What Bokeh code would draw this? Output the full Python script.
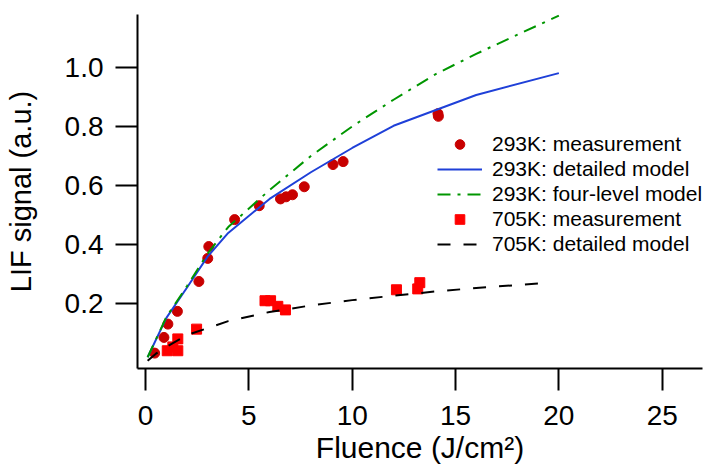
from bokeh.plotting import figure
from bokeh.models import Range1d, FixedTicker, Legend, LegendItem, ColumnDataSource
from bokeh.embed import file_html
from bokeh.resources import INLINE

# 293K measurement (circles)
m293_x = [0.44, 0.89, 1.08, 1.54, 2.58, 3.01, 3.06, 4.31, 5.50, 6.53, 6.80, 7.11, 7.68, 9.07, 9.56, 14.15, 14.17]
m293_y = [0.034, 0.087, 0.132, 0.175, 0.276, 0.354, 0.394, 0.485, 0.532, 0.555, 0.562, 0.569, 0.596, 0.671, 0.681, 0.843, 0.834]

# 705K measurement (squares)
m705_x = [1.05, 1.32, 1.56, 1.56, 2.47, 5.78, 6.05, 6.40, 6.77, 12.14, 13.17, 13.27]
m705_y = [0.042, 0.055, 0.042, 0.082, 0.115, 0.211, 0.211, 0.192, 0.180, 0.248, 0.251, 0.272]

# 293K detailed model
d293_x = [0.1, 1, 2, 3, 4, 6, 8, 10, 12, 16, 20]
d293_y = [0.02, 0.152, 0.255, 0.36, 0.44, 0.555, 0.645, 0.727, 0.802, 0.906, 0.980]

# 293K four-level model
f293_x = [0.1, 1, 2, 3, 4, 6, 8, 10, 12, 14, 16, 18, 20]
f293_y = [0.02, 0.155, 0.26, 0.37, 0.46, 0.585, 0.70, 0.80, 0.89, 0.975, 1.045, 1.11, 1.174]

# 705K detailed model
d705_x = [0.1, 0.5, 1, 2, 4, 6, 8, 10, 12, 14, 16, 19.6]
d705_y = [0.008, 0.032, 0.055, 0.095, 0.142, 0.173, 0.195, 0.213, 0.228, 0.242, 0.254, 0.272]

x_ticks = [0, 5, 10, 15, 20, 25]
y_ticks = [0.2, 0.4, 0.6, 0.8, 1.0]
y_tick_labels = ["0.2", "0.4", "0.6", "0.8", "1.0"]

legend_labels = ["293K: measurement", "293K: detailed model", "293K: four-level model",
                 "705K: measurement", "705K: detailed model"]

FONT = "Liberation Sans"

p = figure(width=719, height=472, output_backend="svg", toolbar_location=None,
           x_range=Range1d(-0.39, 26.95), y_range=Range1d(-0.018, 1.178),
           min_border_left=137, min_border_right=17, min_border_top=14, min_border_bottom=104)
p.xgrid.visible = False
p.ygrid.visible = False
p.outline_line_color = None
p.background_fill_color = "white"

for ax in (p.xaxis[0], p.yaxis[0]):
    ax.axis_line_width = 2
    ax.axis_line_color = "black"
    ax.major_tick_line_width = 2
    ax.major_tick_line_color = "black"
    ax.major_tick_out = 22
    ax.major_tick_in = 0
    ax.minor_tick_line_color = None
    ax.major_label_text_font = FONT
    ax.major_label_text_font_size = "28px"
    ax.major_label_text_color = "black"
    ax.axis_label_text_font = FONT
    ax.axis_label_text_font_style = "normal"
    ax.axis_label_text_color = "black"

p.xaxis[0].major_label_standoff = 15
p.yaxis[0].major_label_standoff = 12
p.xaxis[0].axis_label_text_font_size = "30px"
p.yaxis[0].axis_label_text_font_size = "29px"

p.xaxis[0].ticker = FixedTicker(ticks=x_ticks)
p.yaxis[0].ticker = FixedTicker(ticks=y_ticks)
p.yaxis[0].major_label_overrides = {t: l for t, l in zip(y_ticks, y_tick_labels)}
p.xaxis[0].axis_label = "Fluence (J/cm²)"
p.yaxis[0].axis_label = "LIF signal (a.u.)"
p.xaxis[0].axis_label_standoff = 3
p.yaxis[0].axis_label_standoff = 25

src293 = ColumnDataSource(dict(x=m293_x, y=m293_y))
src705 = ColumnDataSource(dict(x=m705_x, y=m705_y))

r_m293 = p.scatter("x", "y", source=src293, marker="circle", size=10,
                   fill_color="#c80000", line_color="#c80000")
r_m705 = p.scatter("x", "y", source=src705, marker="square", size=10,
                   fill_color="#ff0000", line_color="#ff0000")
r_d293 = p.line(d293_x, d293_y, line_color="#1f40d8", line_width=2)
r_f293 = p.line(f293_x, f293_y, line_color="#009600", line_width=2, line_dash="13 7 3 7")
r_d705 = p.line(d705_x, d705_y, line_color="black", line_width=2, line_dash="13 13")

renderers = [r_m293, r_d293, r_f293, r_m705, r_d705]
legend = Legend(items=[LegendItem(label=l, renderers=[r]) for l, r in zip(legend_labels, renderers)],
                location=(300, 112), glyph_width=45, glyph_height=24, label_height=24,
                spacing=1, label_standoff=10, padding=0, margin=0,
                border_line_color=None, background_fill_alpha=0,
                label_text_font=FONT, label_text_font_size="21px", label_text_color="black")
p.add_layout(legend)

open("out.html", "w").write(file_html(p, INLINE))
